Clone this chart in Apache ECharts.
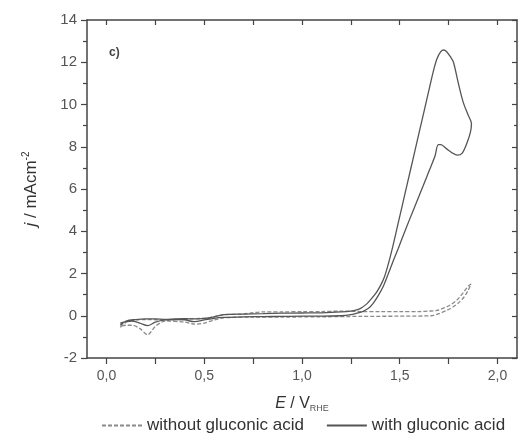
<!DOCTYPE html>
<html>
<head>
<meta charset="utf-8">
<script src="https://cdn.jsdelivr.net/npm/echarts@6/dist/echarts.min.js"></script>
<style>
html,body{margin:0;padding:0;background:#fff;}
#chart{width:527px;height:434px;}
</style>
</head>
<body>
<div id="chart"></div>
<script>
// x tick labels and ticks
const xLabelValues = [0, 0.5, 1.0, 1.5, 2.0];
const xTickValues = [0, 0.25, 0.5, 0.75, 1.0, 1.25, 1.5, 1.75, 2.0];

// With gluconic acid (solid): full scan, forward then backward
const withX = [0.07, 0.10, 0.15, 0.20, 0.25, 0.30, 0.35, 0.40, 0.45, 0.50, 0.55, 0.60, 0.70, 0.80, 0.90, 1.00, 1.10, 1.20, 1.25, 1.28, 1.30, 1.33, 1.35, 1.38, 1.40, 1.42, 1.44, 1.465, 1.49, 1.515, 1.54, 1.57, 1.60, 1.63, 1.65, 1.67, 1.69, 1.71, 1.725, 1.74, 1.76, 1.775, 1.80, 1.825, 1.85, 1.867,
  1.862, 1.845, 1.82, 1.795, 1.77, 1.74, 1.71, 1.697, 1.68, 1.65, 1.62, 1.587, 1.55, 1.52, 1.493, 1.467, 1.44, 1.416, 1.39, 1.365, 1.34, 1.31, 1.28, 1.25, 1.20, 1.10, 1.00, 0.90, 0.80, 0.70, 0.60, 0.55, 0.50, 0.45, 0.40, 0.35, 0.30, 0.25, 0.21, 0.17, 0.13, 0.10, 0.07];
const withY = [-0.45, -0.25, -0.18, -0.15, -0.15, -0.17, -0.15, -0.14, -0.15, -0.12, -0.05, 0.05, 0.08, 0.10, 0.12, 0.13, 0.14, 0.18, 0.22, 0.28, 0.35, 0.55, 0.75, 1.1, 1.4, 1.8, 2.4, 3.3, 4.3, 5.3, 6.3, 7.5, 8.7, 9.9, 10.7, 11.5, 12.15, 12.5, 12.58, 12.5, 12.25, 12.0, 11.0, 10.1, 9.5, 9.1,
  8.7, 8.2, 7.7, 7.6, 7.7, 7.9, 8.1, 8.1, 7.55, 6.85, 6.15, 5.4, 4.55, 3.85, 3.2, 2.6, 1.95, 1.4, 0.95, 0.6, 0.35, 0.2, 0.12, 0.05, 0.0, -0.02, -0.02, -0.03, -0.04, -0.05, -0.08, -0.12, -0.2, -0.28, -0.2, -0.18, -0.2, -0.3, -0.47, -0.35, -0.25, -0.28, -0.35];

// Without gluconic acid (dashed): full scan, forward then backward
const withoutX = [0.07, 0.10, 0.15, 0.20, 0.30, 0.40, 0.50, 0.55, 0.60, 0.70, 0.75, 0.80, 0.90, 1.00, 1.10, 1.20, 1.30, 1.40, 1.50, 1.60, 1.65, 1.69, 1.73, 1.76, 1.79, 1.81, 1.83, 1.85, 1.865,
  1.85, 1.83, 1.80, 1.77, 1.74, 1.70, 1.66, 1.50, 1.30, 1.10, 0.90, 0.75, 0.60, 0.55, 0.50, 0.45, 0.40, 0.30, 0.25, 0.21, 0.17, 0.13, 0.10, 0.07];
const withoutY = [-0.55, -0.3, -0.2, -0.18, -0.2, -0.15, -0.12, -0.05, 0.05, 0.08, 0.15, 0.18, 0.18, 0.2, 0.2, 0.22, 0.2, 0.2, 0.2, 0.2, 0.22, 0.25, 0.38, 0.52, 0.72, 0.92, 1.15, 1.4, 1.5,
  1.2, 0.9, 0.6, 0.4, 0.25, 0.1, 0.0, -0.02, -0.03, -0.05, -0.06, -0.06, -0.1, -0.2, -0.35, -0.4, -0.3, -0.25, -0.5, -0.9, -0.6, -0.45, -0.45, -0.5];

const zip = (xs, ys) => xs.map((x, i) => [x, ys[i]]);
const fmt = v => v.toFixed(1).replace('.', ',');
const FONT = 'Liberation Sans, Arial, sans-serif';
const AX = '#444';

const chart = echarts.init(document.getElementById('chart'), null, {renderer: 'canvas'});
chart.setOption({
  animation: false,
  backgroundColor: '#fff',
  grid: {left: 87, right: 10, top: 20, bottom: 76, containLabel: false},
  xAxis: [{
    type: 'value', min: -0.1, max: 2.1, position: 'bottom',
    splitLine: {show: false},
    axisLine: {onZero: false, lineStyle: {color: AX, width: 1.5}},
    axisTick: {show: true, inside: false, length: 6, customValues: xTickValues, lineStyle: {color: AX, width: 1.2}},
    axisLabel: {customValues: xLabelValues, formatter: fmt, color: '#555', fontSize: 14, fontFamily: FONT, margin: 11},
    name: '{i|E} / V{sub|RHE}', nameLocation: 'middle', nameGap: 36,
    nameTextStyle: {color: '#333', fontSize: 16, fontFamily: FONT,
      rich: {i: {fontStyle: 'italic', fontSize: 16, fontFamily: FONT, color: '#333'},
             sub: {fontSize: 9, fontFamily: FONT, color: '#555', padding: [10, 0, 0, 0]}}}
  }, {
    type: 'value', min: -0.1, max: 2.1, position: 'top',
    splitLine: {show: false},
    axisLine: {onZero: false, lineStyle: {color: AX, width: 1.5}},
    axisTick: {show: true, inside: true, length: 5, customValues: xTickValues, lineStyle: {color: AX, width: 1.2}},
    axisLabel: {show: false}
  }],
  yAxis: [{
    type: 'value', min: -2, max: 14, interval: 2, position: 'left',
    splitLine: {show: false},
    axisLine: {onZero: false, lineStyle: {color: AX, width: 1.5}},
    axisTick: {show: true, inside: false, length: 6, lineStyle: {color: AX, width: 1.2}},
    minorTick: {show: true, splitNumber: 2, length: 4, lineStyle: {color: AX, width: 1.2}},
    axisLabel: {color: '#555', fontSize: 15, fontFamily: FONT, margin: 10},
    name: '{i|j} / mAcm{sup|-2}', nameLocation: 'middle', nameGap: 46, nameRotate: 90,
    nameTextStyle: {color: '#333', fontSize: 17, fontFamily: FONT,
      rich: {i: {fontStyle: 'italic', fontSize: 17, fontFamily: FONT, color: '#333'},
             sup: {fontSize: 10, fontFamily: FONT, color: '#333', padding: [0, 0, 10, 0]}}}
  }, {
    type: 'value', min: -2, max: 14, interval: 2, position: 'right',
    splitLine: {show: false},
    axisLine: {onZero: false, lineStyle: {color: AX, width: 1.5}},
    axisTick: {show: true, inside: true, length: 5, lineStyle: {color: AX, width: 1.2}},
    minorTick: {show: true, splitNumber: 2, length: 3, lineStyle: {color: AX, width: 1.2}},
    axisLabel: {show: false}
  }],
  legend: {
    left: 96, top: 412, itemWidth: 40, itemHeight: 12, itemGap: 22,
    itemStyle: {opacity: 0},
    textStyle: {color: '#333', fontSize: 17, fontFamily: FONT},
    data: ['without gluconic acid', 'with gluconic acid']
  },
  graphic: [{
    type: 'text', left: 109, top: 47,
    style: {text: 'c)', fontSize: 12, fontWeight: 'bold', fontFamily: FONT, fill: '#444'}
  }],
  series: [{
    name: 'without gluconic acid', type: 'line', xAxisIndex: 0, yAxisIndex: 0,
    data: zip(withoutX, withoutY), symbol: 'none', smooth: 0.3,
    lineStyle: {color: '#8a8a8a', width: 1.3, type: [4, 2]},
    itemStyle: {color: '#8a8a8a'}
  }, {
    name: 'with gluconic acid', type: 'line', xAxisIndex: 0, yAxisIndex: 0,
    data: zip(withX, withY), symbol: 'none', smooth: 0.3,
    lineStyle: {color: '#555', width: 1.3},
    itemStyle: {color: '#555'}
  }]
});
</script>
</body>
</html>
